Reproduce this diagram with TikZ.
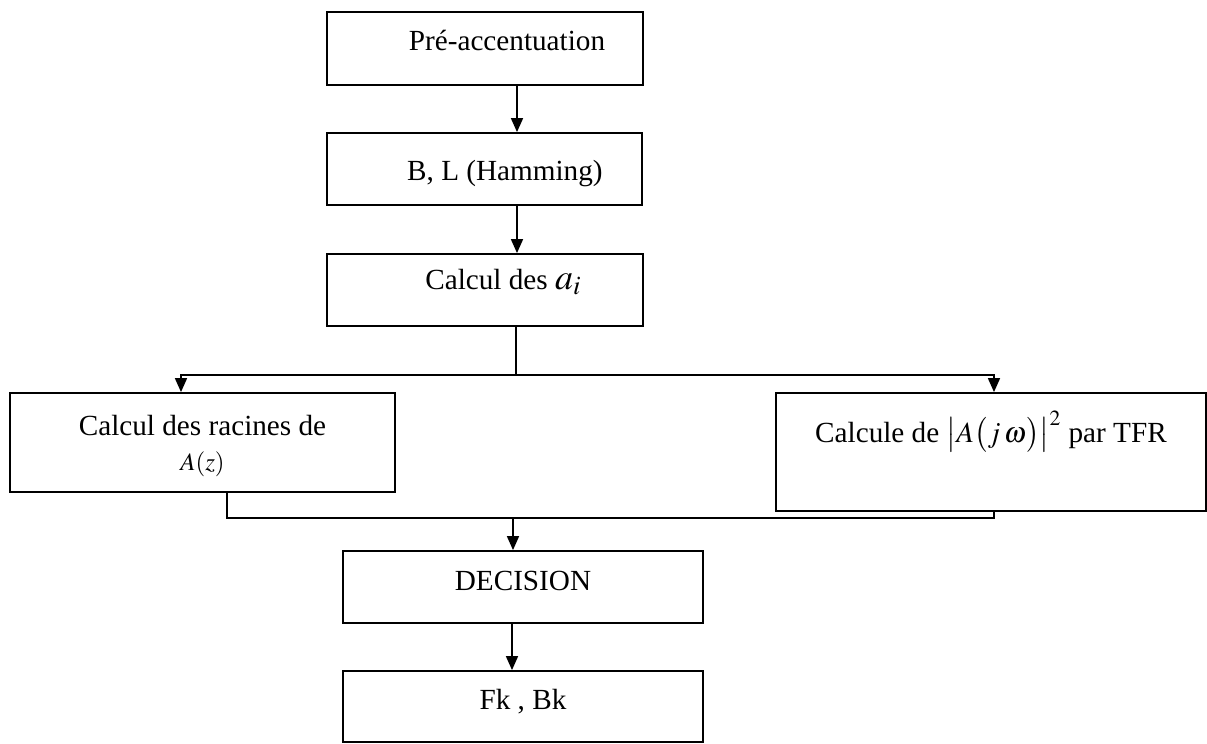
\documentclass[tikz,border=0pt]{standalone}
\usepackage{mathptmx}
\usepackage{fontspec}
\setmainfont{Liberation Serif}
\usepackage{amsmath}
\usetikzlibrary{arrows.meta, positioning}

\begin{document}
\begin{tikzpicture}[x=0.5pt, y=-0.5pt,
		box/.style={draw, line width=0.9pt, rectangle, inner sep=0pt},
		txt/.style={font=\fontsize{14.6}{17.5}\selectfont, align=center, inner sep=0pt, text height=0.7em, text depth=0.2em},
		arr/.style={line width=0.8pt, -{Triangle[width=6pt,length=7pt]}},
		link/.style={line width=0.8pt}]
		\useasboundingbox (0,0) rectangle (1207,744);
		% Columns of the connectors
		\coordinate (col) at (517,0);
		\coordinate (split) at (516,375);
		\coordinate (left) at (181,0);
		\coordinate (right) at (994,0);
		\coordinate (back) at (227,0);
		\coordinate (merge) at (513,518);
		\coordinate (col2) at (512,0);
		% Chain of the first three steps
		\node[box, minimum width=158pt, minimum height=36.5pt,
			label={[txt, xshift=11pt, yshift=1.4pt]center:{Pré-accentuation}}] (pre) at (485,48.5) {};
		\node[box, minimum width=157.5pt, minimum height=36pt,
			label={[txt, xshift=10.2pt, yshift=-3.2pt]center:{B, L (Hamming)}}] (bl) at (484.5,169) {};
		\node[box, minimum width=158pt, minimum height=36pt,
			label={[txt, xshift=9.2pt, yshift=3pt]center:{Calcul des {\fontsize{18}{20}\selectfont$a_i$}}}] (ai) at (485,290) {};
		% The two branches
		\node[box, minimum width=192.5pt, minimum height=49.5pt,
			label={[txt, text height=, text depth=, yshift=-1.5pt]center:{Calcul des racines de\\{\fontsize{12.5}{15}\selectfont$A(z)$}}}] (rac) at (202.5,442.5) {};
		\node[box, minimum width=215pt, minimum height=59pt,
			label={[txt, yshift=7.5pt]center:{Calcule de $\bigl|A\bigl(j\,\omega\bigr)\bigr|^{2}$ par TFR}}] (tfr) at (991,452) {};
		% Decision and result
		\node[box, minimum width=180pt, minimum height=36pt,
			label={[txt, yshift=0.6pt]center:{DECISION}}] (dec) at (523,587) {};
		\node[box, minimum width=180pt, minimum height=35.5pt,
			label={[txt, yshift=1.2pt]center:{Fk , Bk}}] (fk) at (523,706.5) {};
		% Connectors
		\draw[arr] (pre.south -| col) -- (bl.north -| col);
		\draw[arr] (bl.south -| col) -- (ai.north -| col);
		\draw[link] (ai.south -| split) -- (split);
		\draw[arr] (split) -| (rac.north -| left);
		\draw[arr] (split) -| (tfr.north -| right);
		\draw[link] (rac.south -| back) |- (merge);
		\draw[link] (tfr.south -| right) |- (merge);
		\draw[arr] (merge) -- (dec.north -| merge);
		\draw[arr] (dec.south -| col2) -- (fk.north -| col2);
	\end{tikzpicture}
\end{document}
